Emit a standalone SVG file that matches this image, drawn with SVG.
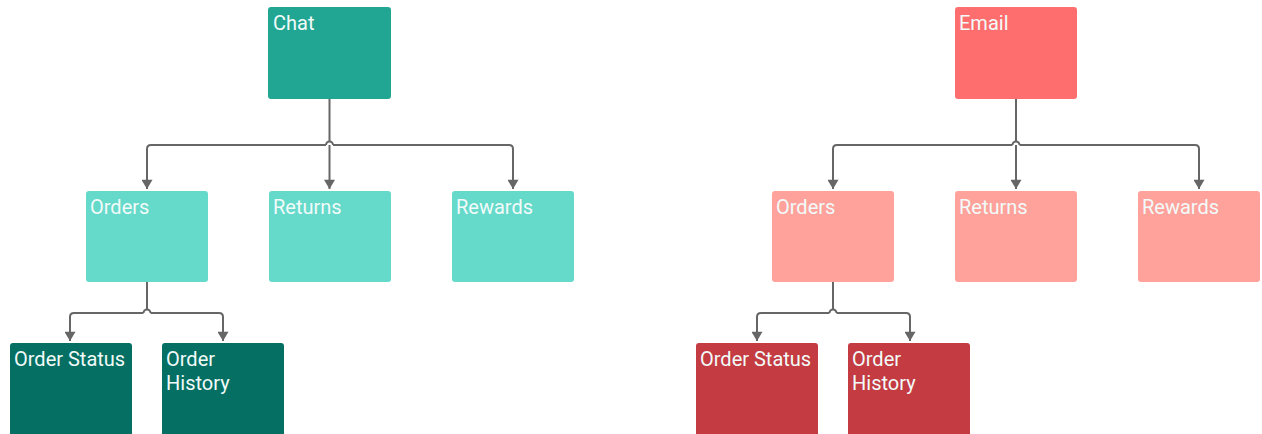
<svg xmlns="http://www.w3.org/2000/svg" width="1262" height="434" viewBox="0 0 1262 434">
<style>
.n rect{rx:3;ry:3}
.t{font-family:Roboto,"Liberation Sans",sans-serif;font-size:20px;fill:#f2fbf9}
.c path{fill:none;stroke:#666;stroke-width:2;stroke-linejoin:round}
.a1{fill:#22a694}.a2{fill:#65d9ca}.a3{fill:#046f62}
.b1{fill:#ff6e6e}.b2{fill:#ffa29c}.b3{fill:#c43b42}
</style>
<defs>
<marker id="ar" viewBox="0 0 10 12" refX="10" refY="6" markerWidth="6" markerHeight="5.5" orient="auto" markerUnits="strokeWidth">
<path d="M0,0 L10,6 L0,12 z" fill="#666"/>
</marker>
</defs>
<rect width="1262" height="434" fill="#fff"/>
<g class="c">
<path d="M329.5,99 V141" />
<path d="M329.5,145 V189" marker-end="url(#ar)"/>
<path d="M326,145 H151 Q147,145 147,149 V189" marker-end="url(#ar)"/>
<path d="M333,145 H509 Q513,145 513,149 V189" marker-end="url(#ar)"/>
<path d="M326,145 A3.5,3.5 0 0 1 333,145"/>
<path d="M147,282 V309"/>
<path d="M143.5,313 H74 Q70,313 70,317 V341" marker-end="url(#ar)"/>
<path d="M150.5,313 H219 Q223,313 223,317 V341" marker-end="url(#ar)"/>
<path d="M143.5,313 A3.5,3.5 0 0 1 150.5,313"/>
<path d="M1016,99 V141" />
<path d="M1016,145 V189" marker-end="url(#ar)"/>
<path d="M1012.5,145 H837 Q833,145 833,149 V189" marker-end="url(#ar)"/>
<path d="M1019.5,145 H1195 Q1199,145 1199,149 V189" marker-end="url(#ar)"/>
<path d="M1012.5,145 A3.5,3.5 0 0 1 1019.5,145"/>
<path d="M833,282 V309"/>
<path d="M829.5,313 H761 Q757,313 757,317 V341" marker-end="url(#ar)"/>
<path d="M836.5,313 H906 Q910,313 910,317 V341" marker-end="url(#ar)"/>
<path d="M829.5,313 A3.5,3.5 0 0 1 836.5,313"/>
</g>
<g id="chat" class="n"><rect class="a1" x="268" y="7" width="123" height="92"/><text class="t" x="273" y="30">Chat</text></g>
<g id="orders1" class="n"><rect class="a2" x="86" y="191" width="122" height="91"/><text class="t" x="90" y="214">Orders</text></g>
<g id="returns1" class="n"><rect class="a2" x="269" y="191" width="122" height="91"/><text class="t" x="273" y="214">Returns</text></g>
<g id="rewards1" class="n"><rect class="a2" x="452" y="191" width="122" height="91"/><text class="t" x="456" y="214">Rewards</text></g>
<g id="status1" class="n"><rect class="a3" x="10" y="343" width="122" height="95"/><text class="t" x="14" y="366">Order Status</text></g>
<g id="history1" class="n"><rect class="a3" x="162" y="343" width="122" height="95"/><text class="t" x="166" y="366">Order<tspan x="166" dy="24">History</tspan></text></g>
<g id="email" class="n"><rect class="b1" x="955" y="7" width="122" height="92"/><text class="t" x="959" y="30">Email</text></g>
<g id="orders2" class="n"><rect class="b2" x="772" y="191" width="122" height="91"/><text class="t" x="776" y="214">Orders</text></g>
<g id="returns2" class="n"><rect class="b2" x="955" y="191" width="122" height="91"/><text class="t" x="959" y="214">Returns</text></g>
<g id="rewards2" class="n"><rect class="b2" x="1138" y="191" width="122" height="91"/><text class="t" x="1142" y="214">Rewards</text></g>
<g id="status2" class="n"><rect class="b3" x="696" y="343" width="122" height="95"/><text class="t" x="700" y="366">Order Status</text></g>
<g id="history2" class="n"><rect class="b3" x="848" y="343" width="122" height="95"/><text class="t" x="852" y="366">Order<tspan x="852" dy="24">History</tspan></text></g>
</svg>
